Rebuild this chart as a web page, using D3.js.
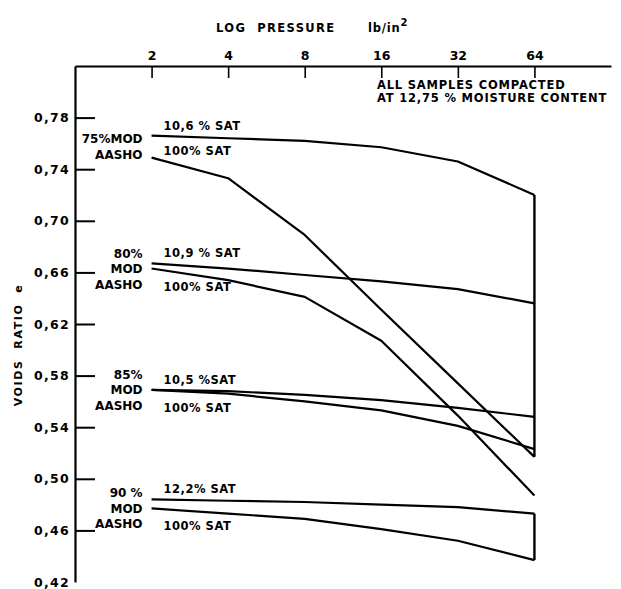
<!DOCTYPE html>
<html>
<head>
<meta charset="utf-8">
<script src="https://cdn.jsdelivr.net/npm/d3@7"></script>
<style>
  body { margin: 0; background: #fff; }
  text { font-family: "DejaVu Sans", sans-serif; font-weight: bold; fill: #000; }
</style>
</head>
<body>
<div id="chart"></div>
<script>
// pressure steps (lb/in2) and void ratio ticks
const pressures = [2, 4, 8, 16, 32, 64];
const voidTicks = [0.42, 0.46, 0.50, 0.54, 0.58, 0.62, 0.66, 0.70, 0.74, 0.78];

// voids ratio, one value per pressure step
const mod75Partial = [0.766, 0.764, 0.762, 0.757, 0.746, 0.720];
const mod75Full    = [0.749, 0.733, 0.689, 0.631, 0.574, 0.517];
const mod80Partial = [0.667, 0.663, 0.658, 0.653, 0.647, 0.636];
const mod80Full    = [0.663, 0.654, 0.641, 0.607, 0.549, 0.487];
const mod85Partial = [0.569, 0.568, 0.565, 0.561, 0.555, 0.548];
const mod85Full    = [0.569, 0.566, 0.560, 0.553, 0.541, 0.523];
const mod90Partial = [0.484, 0.483, 0.482, 0.480, 0.478, 0.473];
const mod90Full    = [0.477, 0.473, 0.469, 0.461, 0.452, 0.437];

const groupLabels = [["75%MOD", "AASHO"], ["80%", "MOD", "AASHO"], ["85%", "MOD", "AASHO"], ["90 %", "MOD", "AASHO"]];
const partialLabels = ["10,6 % SAT", "10,9 % SAT", "10,5 %SAT", "12,2% SAT"];
const fullLabels = ["100% SAT", "100% SAT", "100% SAT", "100% SAT"];

const groups = [
    {partial: mod75Partial, full: mod75Full, closed: true, fullAbove: true},
    {partial: mod80Partial, full: mod80Full, closed: false, fullAbove: false},
    {partial: mod85Partial, full: mod85Full, closed: false, fullAbove: false},
    {partial: mod90Partial, full: mod90Full, closed: true, fullAbove: false}
];

let width = 621, height = 589;

let svg = d3.select('#chart')
    .append('svg')
    .attr('width', width)
    .attr('height', height);

let xScale = d3.scaleLog().base(2)
    .domain([1, 128])
    .range([75, 611]);

let yScale = d3.scaleLinear()
    .domain([0.42, 0.82])
    .range([582, 66]);

// top axis (log pressure)
let xAxis = svg.append('g')
    .attr('transform', `translate(0, ${yScale(0.82)})`)
    .call(d3.axisTop(xScale)
        .tickValues(pressures)
        .tickFormat(d3.format('d'))
        .tickSizeInner(-12)
        .tickSizeOuter(0)
        .tickPadding(6));
xAxis.select('.domain').attr('stroke-width', 2);
xAxis.selectAll('.tick line').attr('stroke-width', 1.6);
xAxis.selectAll('.tick text')
    .attr('font-family', 'DejaVu Sans')
    .attr('font-size', 12.5)
    .attr('font-weight', 'bold');

// left axis (voids ratio)
let yAxis = svg.append('g')
    .attr('transform', `translate(${xScale(1)}, 0)`)
    .call(d3.axisLeft(yScale)
        .tickValues(voidTicks)
        .tickFormat(d => d3.format('.2f')(d).replace('.', ','))
        .tickSizeInner(-20)
        .tickSizeOuter(0)
        .tickPadding(5));
yAxis.select('.domain').attr('stroke-width', 2.2);
yAxis.selectAll('.tick line').attr('stroke-width', 2);
yAxis.selectAll('.tick').filter(d => d === 0.42).select('line').remove();
yAxis.selectAll('.tick text')
    .attr('font-family', 'DejaVu Sans')
    .attr('font-size', 12.5)
    .attr('font-weight', 'bold')
    .attr('letter-spacing', 1.3);

// axis titles
svg.append('text')
    .attr('x', 216)
    .attr('y', 32)
    .attr('font-size', 11.5)
    .attr('letter-spacing', 1.4)
    .attr('xml:space', 'preserve')
    .text('LOG  PRESSURE');

let unit = svg.append('text')
    .attr('x', 368)
    .attr('y', 32)
    .attr('font-size', 11.5)
    .attr('letter-spacing', 0.8);
unit.append('tspan').text('lb/in');
unit.append('tspan').attr('dy', -6).attr('font-size', 10).text('2');

svg.append('text')
    .attr('transform', 'translate(22, 345) rotate(-90)')
    .attr('text-anchor', 'middle')
    .attr('font-size', 11)
    .attr('letter-spacing', 1.6)
    .attr('xml:space', 'preserve')
    .text('VOIDS  RATIO  e');

// note
svg.append('text')
    .attr('x', 377)
    .attr('y', 89)
    .attr('font-size', 11.5)
    .attr('letter-spacing', 0.8)
    .text('ALL SAMPLES COMPACTED');
svg.append('text')
    .attr('x', 377)
    .attr('y', 102)
    .attr('font-size', 11.5)
    .attr('letter-spacing', 0.8)
    .text('AT 12,75 % MOISTURE CONTENT');

// curves
let line = d3.line()
    .x((d, i) => xScale(pressures[i]))
    .y(d => yScale(d));

groups.forEach((g, gi) => {
    [g.partial, g.full].forEach(values => {
        svg.append('path')
            .datum(values)
            .attr('d', line)
            .attr('fill', 'none')
            .attr('stroke', 'black')
            .attr('stroke-width', 2.2)
            .attr('stroke-linejoin', 'round');
    });

    // closing vertical at the last pressure
    if (g.closed) {
        let last = pressures.length - 1;
        svg.append('line')
            .attr('x1', xScale(pressures[last]))
            .attr('x2', xScale(pressures[last]))
            .attr('y1', yScale(g.partial[last]))
            .attr('y2', yScale(g.full[last]))
            .attr('stroke', 'black')
            .attr('stroke-width', 2.4);
    }

    let x0 = xScale(pressures[0]);
    let yPart = yScale(g.partial[0]);
    let yFull = yScale(g.full[0]);

    // saturation labels
    svg.append('text')
        .attr('x', x0 + 12)
        .attr('y', yPart - 6)
        .attr('font-size', 11.5)
        .attr('letter-spacing', 0.5)
        .text(partialLabels[gi]);

    svg.append('text')
        .attr('x', x0 + 12)
        .attr('y', g.fullAbove ? yFull - 3 : yFull + 22)
        .attr('font-size', 11.5)
        .attr('letter-spacing', 0.5)
        .text(fullLabels[gi]);

    // compaction label
    let rows = groupLabels[gi];
    let mid = rows.length === 2 ? (yPart + yFull) / 2 : yFull;
    rows.forEach((r, ri) => {
        svg.append('text')
            .attr('x', x0 - 9)
            .attr('y', mid + (ri - (rows.length - 1) / 2) * 15.5 + 4.5)
            .attr('text-anchor', 'end')
            .attr('font-size', 12)
            .text(r);
    });
});
</script>
</body>
</html>
